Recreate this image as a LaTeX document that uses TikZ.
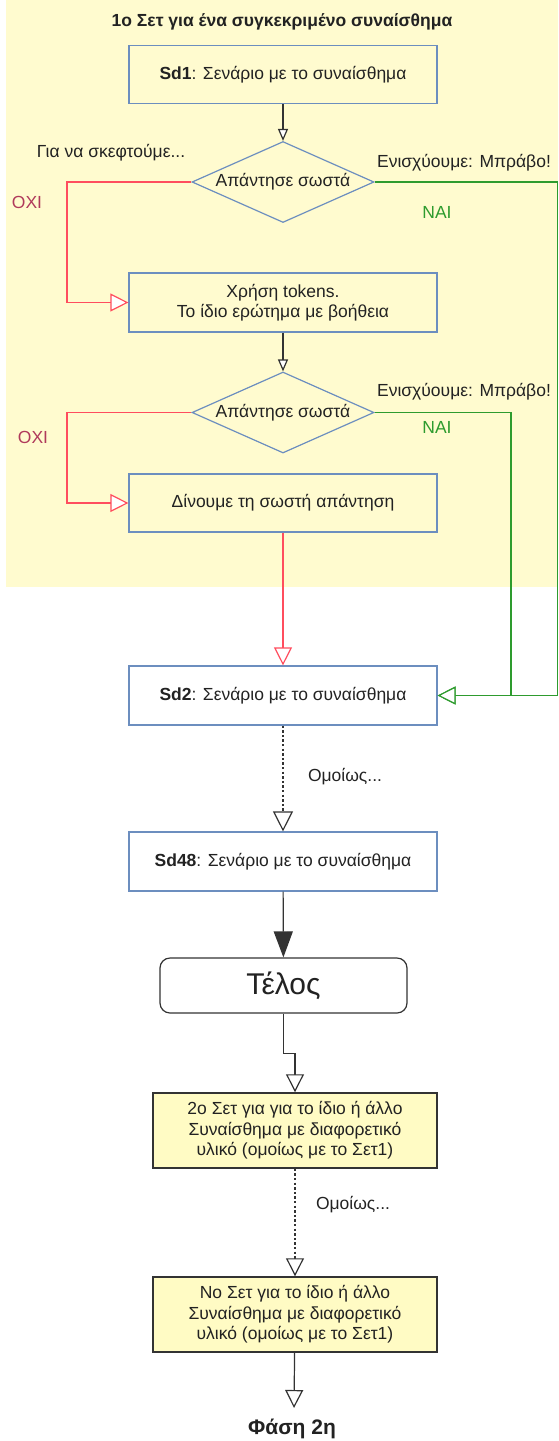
\documentclass[tikz,border=0pt]{standalone}
\usepackage{fontspec}
\setmainfont{Liberation Sans}
\usetikzlibrary{arrows.meta,shapes.geometric}
\definecolor{bgyellow}{HTML}{FFFBCF}
\definecolor{setyellow}{HTML}{FFFBC4}
\definecolor{boxblue}{HTML}{6C8EBF}
\definecolor{loopred}{HTML}{FF4D5E}
\definecolor{yesgreen}{HTML}{2E9B2E}
\definecolor{notext}{HTML}{B03A5B}
\definecolor{ink}{HTML}{222222}
\definecolor{wire}{HTML}{333333}
\begin{document}
\begin{tikzpicture}[x=1pt,y=-1pt,
  txt/.style={font=\fontsize{17.5}{20.5}\selectfont, text=ink},
  procbox/.style={txt, draw=boxblue, line width=1.2pt, rectangle,
    minimum width=308pt, minimum height=58pt, align=center, inner sep=2pt},
  decbox/.style={txt, draw=boxblue, line width=1.2pt, diamond, aspect=2.25,
    inner sep=0pt, minimum width=182pt, minimum height=81pt},
  setbox/.style={txt, draw=wire, fill=setyellow, line width=1.5pt, rectangle,
    minimum width=284pt, minimum height=75pt, align=center, inner sep=2pt},
  wireline/.style={draw=wire, line width=1.2pt},
  tipsmall/.style={-{Triangle[length=12pt,width=10pt,fill=white]}},
  tipbig/.style={-{Triangle[length=18pt,width=18pt,fill=white]}},
  dots/.style={line width=2.4pt, dash pattern=on 2.4pt off 2.2pt},
  lbl/.style={txt},
]
\useasboundingbox (0,0) rectangle (558,1441);
% yellow panel of the first set
\fill[bgyellow] (6,0) rectangle (558,587);

\node[txt, font=\fontsize{17.5}{20}\selectfont\bfseries] (title) at (282,22)
  {1ο Σετ για ένα συγκεκριμένο συναίσθημα};

\node[procbox] (sd1) at (283,74.5) {\textbf{Sd1}: Σενάριο με το συναίσθημα};
\node[decbox] (d1) at (283,182) {Απάντησε σωστά};
\node[procbox, minimum height=59pt] (tok) at (283,302.5)
  {Χρήση tokens.\\Το ίδιο ερώτημα με βοήθεια};
\node[decbox] (d2) at (283,412.5) {Απάντησε σωστά};
\node[procbox] (give) at (283,503) {Δίνουμε τη σωστή απάντηση};

\node[procbox, fill=white, minimum height=59pt] (sd2) at (283,695.5)
  {\textbf{Sd2}: Σενάριο με το συναίσθημα};
\node[procbox, fill=white, minimum height=59pt] (sd48) at (283,861.5)
  {\textbf{Sd48}: Σενάριο με το συναίσθημα};
\node[draw=wire, line width=1.2pt, rounded corners=10pt, fill=white,
  minimum width=247pt, minimum height=55pt, text=ink,
  font=\fontsize{30}{34}\selectfont] (telos) at (283.5,985.5) {Τέλος};

\node[setbox] (set2) at (295,1130.5)
  {2ο Σετ για για το ίδιο ή άλλο\\Συναίσθημα με διαφορετικό\\υλικό (ομοίως με το Σετ1)};
\node[setbox] (setn) at (295,1314.5)
  {Νο Σετ για το ίδιο ή άλλο\\Συναίσθημα με διαφορετικό\\υλικό (ομοίως με το Σετ1)};
\node[txt, font=\fontsize{21}{24}\selectfont\bfseries] (phase) at (292,1429) {Φάση 2η};
\coordinate (phasein) at (294,1408);

% side labels
\node[lbl] (think) at (111,153) {Για να σκεφτούμε...};
\node[lbl, text=notext] (no1) at (27,202) {ΟΧΙ};
\node[lbl, text=notext] (no2) at (33,437) {ΟΧΙ};
\node[lbl] (bravo1) at (464,163) {Ενισχύουμε: Μπράβο!};
\node[lbl] (bravo2) at (464,392) {Ενισχύουμε: Μπράβο!};
\node[lbl, text=yesgreen] (yes1) at (437,212) {ΝΑΙ};
\node[lbl, text=yesgreen] (yes2) at (437,427) {ΝΑΙ};
\node[lbl] (same1) at (345,777) {Ομοίως...};
\node[lbl] (same2) at (353,1205) {Ομοίως...};

% guide coordinates for the vertical runs
\coordinate (redx) at (67,0);
\coordinate (greenout) at (557.5,0);
\coordinate (greenin) at (511,0);

% main flow
\draw[wireline, tipsmall] (sd1) -- (d1);
\draw[wireline, tipsmall] (tok) -- (d2);

% "no" branches
\draw[loopred, line width=1.2pt, tipbig] (d1.west) -- (d1.west -| redx) |- (tok.west);
\draw[loopred, line width=1.2pt, tipbig] (d2.west) -- (d2.west -| redx) |- (give.west);
\draw[loopred, line width=1.2pt, tipbig] (give) -- (sd2);

% "yes" branches
\draw[yesgreen, line width=1.2pt, tipbig] (d1.east) -- (d1.east -| greenout) |- (sd2.east);
\draw[yesgreen, line width=1.2pt, tipbig] (d2.east) -- (d2.east -| greenin) |- (sd2.east);

% continuation
\draw[wireline, dots, -{Triangle[length=20pt,width=20pt,fill=white,line width=1.2pt]}] (sd2) -- (sd48);
\draw[wireline, -{Triangle[length=26pt,width=19pt,fill=wire]}] (sd48) -- (telos);
\draw[wireline, tipbig] (telos.south) -- ++(0,40) -| (set2.north);
\draw[wireline, dots, -{Triangle[length=18pt,width=18pt,fill=white,line width=1.2pt]}] (set2) -- (setn);
\draw[wireline, tipbig] (setn) -- (phasein);
\end{tikzpicture}
\end{document}
